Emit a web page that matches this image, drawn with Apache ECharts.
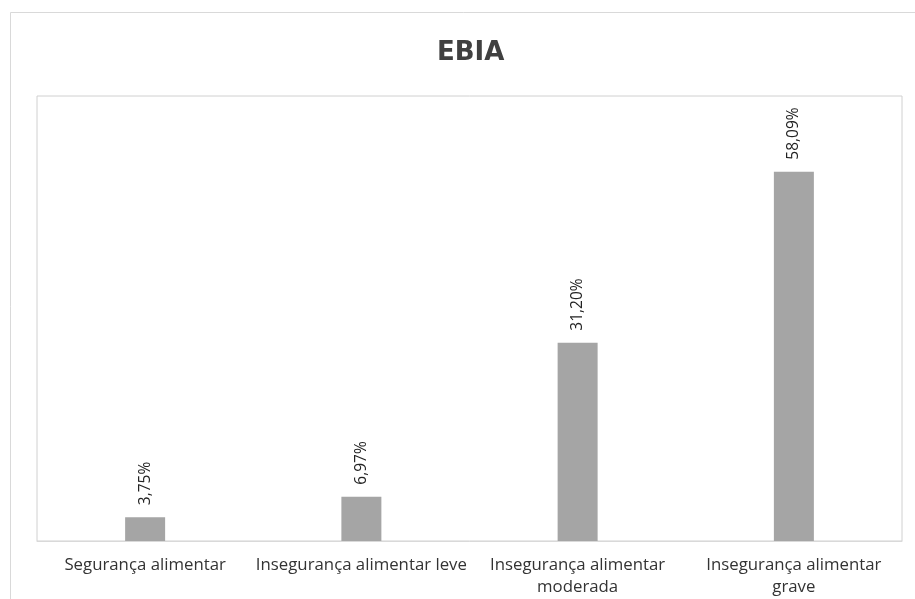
<!DOCTYPE html>
<html>
<head>
<meta charset="utf-8">
<script src="https://cdn.jsdelivr.net/npm/echarts@6/dist/echarts.min.js"></script>
<style>
  html, body { margin: 0; padding: 0; background: #ffffff; }
  #chart { width: 915px; height: 599px; }
</style>
</head>
<body>
<div id="chart"></div>
<script>
// EBIA food-security classes and their shares (%)
const categories = [
  'Segurança alimentar',
  'Insegurança alimentar leve',
  'Insegurança alimentar\nmoderada',
  'Insegurança alimentar\ngrave'
];
const shares = [3.75, 6.97, 31.20, 58.09];
const chartTitle = 'EBIA';

const chart = echarts.init(document.getElementById('chart'));

const fmtPct = v => v.toFixed(2).replace('.', ',') + '%';

chart.setOption({
  animation: false,
  backgroundColor: '#ffffff',
  title: {
    text: chartTitle,
    left: 432,
    top: 35,
    textStyle: {
      fontFamily: 'DejaVu Sans',
      fontWeight: 'bold',
      fontSize: 26,
      color: '#404040'
    }
  },
  graphic: [{
    type: 'rect',
    silent: true,
    shape: { x: 10.5, y: 12.5, width: 920, height: 600 },
    style: { fill: 'none', stroke: '#d9d9d9', lineWidth: 1 }
  }],
  grid: {
    left: 37,
    top: 96,
    width: 865,
    height: 445,
    show: true,
    borderColor: '#d0d0d0',
    borderWidth: 1,
    containLabel: false
  },
  xAxis: {
    type: 'category',
    data: categories,
    axisLine: { show: true, lineStyle: { color: '#d9d9d9', width: 1 } },
    axisTick: { show: false },
    axisLabel: {
      interval: 0,
      margin: 13,
      color: '#333333',
      fontFamily: 'Open Sans',
      fontSize: 16.8,
      lineHeight: 22
    }
  },
  yAxis: {
    type: 'value',
    min: 0,
    max: 70,
    show: false,
    splitLine: { show: false }
  },
  series: [{
    type: 'bar',
    data: shares,
    barWidth: 40,
    itemStyle: { color: '#a5a5a5' },
    label: {
      show: true,
      position: 'top',
      rotate: 90,
      align: 'left',
      verticalAlign: 'middle',
      distance: 12,
      color: '#222222',
      fontFamily: 'Open Sans',
      fontSize: 15.5,
      formatter: p => fmtPct(p.value)
    }
  }]
});
</script>
</body>
</html>
